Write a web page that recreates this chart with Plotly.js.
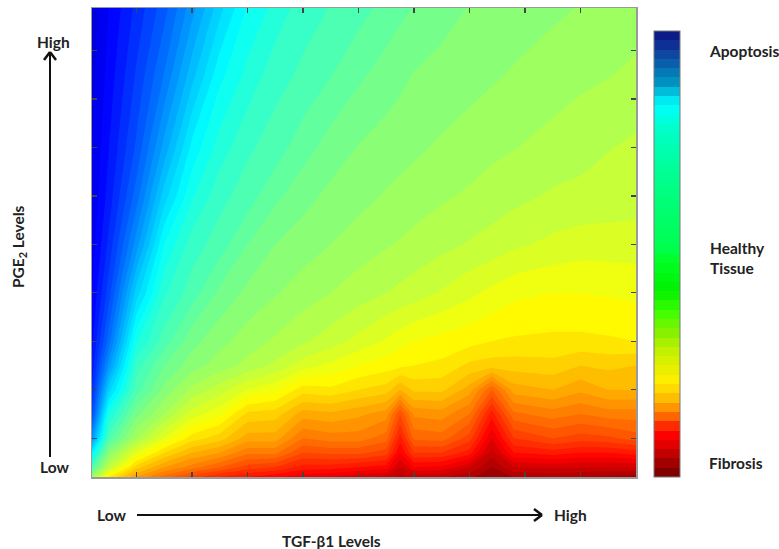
<!DOCTYPE html>
<html>
<head>
<meta charset="utf-8">
<script src="https://cdn.plot.ly/plotly-3.0.1.min.js"></script>
<style>html,body{margin:0;padding:0;background:#fff;}#chart{width:779px;height:549px;}</style>
</head>
<body>
<div id="chart"></div>
<script>
// TGF-β1 level grid (x) and PGE2 level grid (y), arbitrary units
const tgfLevels = [0.2, 0.5, 1, 1.5, 2, 2.5, 3, 3.5, 4, 4.5, 5, 5.5, 5.75, 6, 6.5, 7, 7.4, 7.8, 8.5, 9, 9.5, 10];
const pgeLevels = [0.2, 0.4, 0.7, 1, 1.5, 2, 2.5, 3, 4, 5, 6, 7, 8.5, 9.88];

// Outcome score: 0 = fibrosis (dark red) ... 1 = apoptosis (dark blue)
const row_0_2  = [0.47,0.36,0.28,0.23,0.19,0.16,0.14,0.125,0.11,0.10,0.085,0.075,0.055,0.07,0.065,0.045,0.025,0.04,0.045,0.04,0.035,0.03];
const row_0_4  = [0.55,0.44,0.33,0.28,0.25,0.22,0.19,0.18,0.15,0.15,0.14,0.13,0.08,0.12,0.115,0.08,0.04,0.08,0.085,0.08,0.08,0.08];
const row_0_7  = [0.634,0.49,0.40,0.34,0.30,0.28,0.245,0.245,0.20,0.205,0.205,0.19,0.12,0.18,0.18,0.15,0.07,0.14,0.15,0.14,0.14,0.15];
const row_1_0  = [0.73,0.55,0.46,0.40,0.35,0.33,0.29,0.29,0.24,0.25,0.25,0.23,0.15,0.225,0.23,0.19,0.10,0.18,0.20,0.19,0.195,0.21];
const row_1_5  = [0.805,0.603,0.507,0.46,0.41,0.385,0.335,0.33,0.29,0.295,0.285,0.27,0.20,0.265,0.27,0.24,0.15,0.235,0.25,0.24,0.25,0.25];
const row_2_0  = [0.835,0.67,0.55,0.495,0.455,0.43,0.40,0.385,0.35,0.355,0.34,0.33,0.30,0.325,0.325,0.29,0.22,0.29,0.30,0.285,0.30,0.30];
const row_2_5  = [0.853,0.73,0.57,0.52,0.49,0.47,0.454,0.435,0.41,0.395,0.38,0.37,0.365,0.36,0.355,0.335,0.33,0.33,0.333,0.32,0.325,0.32];
const row_3_0  = [0.865,0.77,0.603,0.55,0.507,0.487,0.47,0.457,0.443,0.43,0.413,0.397,0.388,0.38,0.373,0.367,0.36,0.357,0.355,0.355,0.357,0.36];
const row_4_0  = [0.88,0.81,0.67,0.583,0.55,0.515,0.495,0.482,0.47,0.46,0.45,0.44,0.435,0.43,0.418,0.405,0.395,0.385,0.38,0.38,0.382,0.385];
const row_5_0  = [0.89,0.835,0.73,0.62,0.57,0.55,0.52,0.50,0.49,0.48,0.47,0.462,0.458,0.454,0.446,0.438,0.432,0.424,0.415,0.41,0.41,0.41];
const row_6_0  = [0.897,0.852,0.77,0.67,0.603,0.567,0.55,0.525,0.507,0.495,0.487,0.478,0.474,0.47,0.463,0.457,0.451,0.446,0.437,0.435,0.432,0.43];
const row_7_0  = [0.901,0.861,0.796,0.713,0.634,0.591,0.564,0.55,0.529,0.511,0.499,0.491,0.488,0.484,0.477,0.47,0.465,0.461,0.453,0.447,0.441,0.436];
const row_8_5  = [0.907,0.872,0.817,0.759,0.688,0.626,0.594,0.568,0.556,0.541,0.524,0.511,0.505,0.499,0.493,0.488,0.483,0.478,0.47,0.465,0.461,0.456];
const row_9_88 = [0.91,0.88,0.834,0.788,0.728,0.667,0.618,0.593,0.569,0.559,0.548,0.533,0.525,0.519,0.508,0.499,0.495,0.491,0.484,0.479,0.474,0.469];

const xTicks = [1, 2, 3, 4, 5, 6, 7, 8, 9];
const yTicks = [1, 2, 3, 4, 5, 6, 7, 8, 9];
const cbLabels = ['Apoptosis', 'Healthy<br>Tissue', 'Fibrosis'];

const zScore = [row_0_2,row_0_4,row_0_7,row_1_0,row_1_5,row_2_0,row_2_5,row_3_0,row_4_0,row_5_0,row_6_0,row_7_0,row_8_5,row_9_88];

// reversed jet for the field
const jetRev = [[0,'rgb(128,0,0)'],[0.125,'rgb(255,0,0)'],[0.375,'rgb(255,255,0)'],[0.625,'rgb(0,255,255)'],[0.875,'rgb(0,0,255)'],[1,'rgb(0,0,128)']];
// legend bar colours as drawn in the reference
const cbStops  = [0, 0.03, 0.05, 0.07, 0.095, 0.117, 0.139, 0.161, 0.188, 0.217, 0.25, 0.285, 0.318, 0.368, 0.419, 0.48, 0.516, 0.677, 0.79, 0.834, 0.886, 0.953, 1];
const cbColors = ['#700000','#a00000','#c00000','#e00000','#ff0000','#ff3000','#ff7000','#ffa000','#ffd000','#ffee00','#e0f000','#c0f000','#90f000','#40ff00','#00f000','#00ff20','#00ff50','#00ff90','#00ffd0','#00ffff','#0090c0','#1040a0','#0a1080'];

// build a banded (stepped) version of the legend scale, like the reference bar
function hex2rgb(h){return [parseInt(h.substr(1,2),16),parseInt(h.substr(3,2),16),parseInt(h.substr(5,2),16)];}
function colorAt(t){
  for (let i = 1; i < cbStops.length; i++) {
    if (t <= cbStops[i]) {
      const a = hex2rgb(cbColors[i-1]), b = hex2rgb(cbColors[i]);
      const f = (t - cbStops[i-1]) / (cbStops[i] - cbStops[i-1]);
      return 'rgb(' + a.map((v,k)=>Math.round(v + (b[k]-v)*f)).join(',') + ')';
    }
  }
  return cbColors[cbColors.length-1];
}
const nBands = 48;
const cbScale = [];
for (let i = 0; i < nBands; i++) {
  const c = colorAt((i + 0.5) / nBands);
  cbScale.push([i / nBands, c]);
  cbScale.push([(i + 1) / nBands, c]);
}

// pixel -> paper helpers (plot area: x 92..636, y 8..477)
const PX = p => (p - 92) / 544;
const PY = p => (477 - p) / 469;

const font = {family: 'Lato, "Open Sans", sans-serif', size: 15.5, color: '#222222', weight: 'bold'};

const traces = [
  {
    type: 'contour', x: tgfLevels, y: pgeLevels, z: zScore,
    colorscale: jetRev, zmin: 0, zmax: 1, zauto: false,
    autocontour: false,
    contours: {start: 0, end: 1, size: 0.02, coloring: 'fill', showlines: false},
    line: {width: 0, smoothing: 0},
    showscale: false, hoverinfo: 'skip'
  },
  {
    type: 'scatter', x: [null], y: [null], mode: 'markers', hoverinfo: 'skip', showlegend: false,
    marker: {
      color: [0], cmin: 0, cmax: 1, colorscale: cbScale, showscale: true,
      colorbar: {
        x: PX(654), xanchor: 'left', y: PY(31), yanchor: 'top',
        thickness: 26, thicknessmode: 'pixels', len: 446, lenmode: 'pixels',
        xpad: 0, ypad: 0, outlinewidth: 1, outlinecolor: '#7a7a7a',
        showticklabels: false, ticks: ''
      }
    }
  }
];

const lineStyle = {color: '#111', width: 2};
const headStyle = {color: '#111', width: 2.5};
const shapes = [
  // vertical PGE2 arrow
  {type:'line', xref:'paper', yref:'paper', x0:PX(50), x1:PX(50), y0:PY(457), y1:PY(52), line:lineStyle},
  {type:'line', xref:'paper', yref:'paper', x0:PX(44), x1:PX(50), y0:PY(60), y1:PY(52), line:headStyle},
  {type:'line', xref:'paper', yref:'paper', x0:PX(56), x1:PX(50), y0:PY(60), y1:PY(52), line:headStyle},
  // horizontal TGF arrow
  {type:'line', xref:'paper', yref:'paper', x0:PX(137), x1:PX(542), y0:PY(515), y1:PY(515), line:lineStyle},
  {type:'line', xref:'paper', yref:'paper', x0:PX(534), x1:PX(542), y0:PY(509), y1:PY(515), line:headStyle},
  {type:'line', xref:'paper', yref:'paper', x0:PX(534), x1:PX(542), y0:PY(521), y1:PY(515), line:headStyle}
];

function ann(text, px, py, xanchor, extra) {
  return Object.assign({text: text, xref:'paper', yref:'paper', x: PX(px), y: PY(py),
    xanchor: xanchor, yanchor: 'middle', showarrow: false, font: font}, extra || {});
}

const annotations = [
  ann('High', 53, 42, 'center'),
  ann('Low', 54, 467, 'center'),
  ann('PGE<sub>2</sub> Levels', 19, 247, 'center', {textangle: -90}),
  ann('Low', 111, 515, 'center'),
  ann('High', 570, 515, 'center'),
  ann('TGF-β1 Levels', 331, 541, 'center'),
  ann(cbLabels[0], 707, 51, 'left'),
  ann(cbLabels[1], 708, 258, 'left', {align: 'left'}),
  ann(cbLabels[2], 707, 463, 'left')
];

const axisCommon = {
  showgrid: false, zeroline: false, showticklabels: false,
  ticks: 'inside', ticklen: 5, tickwidth: 1.2, tickcolor: '#444',
  showline: true, linecolor: '#9a9a9a', linewidth: 1.5, mirror: 'allticks',
  tickmode: 'array'
};

const layout = {
  width: 779, height: 549,
  margin: {l: 92, r: 143, t: 8, b: 72, pad: 0},
  paper_bgcolor: '#ffffff', plot_bgcolor: '#ffffff',
  showlegend: false,
  xaxis: Object.assign({}, axisCommon, {range: [0.2, 10], tickvals: xTicks}),
  yaxis: Object.assign({}, axisCommon, {range: [0.2, 9.88], tickvals: yTicks}),
  shapes: shapes,
  annotations: annotations
};

Plotly.newPlot('chart', traces, layout, {staticPlot: true, displayModeBar: false});
</script>
</body>
</html>
